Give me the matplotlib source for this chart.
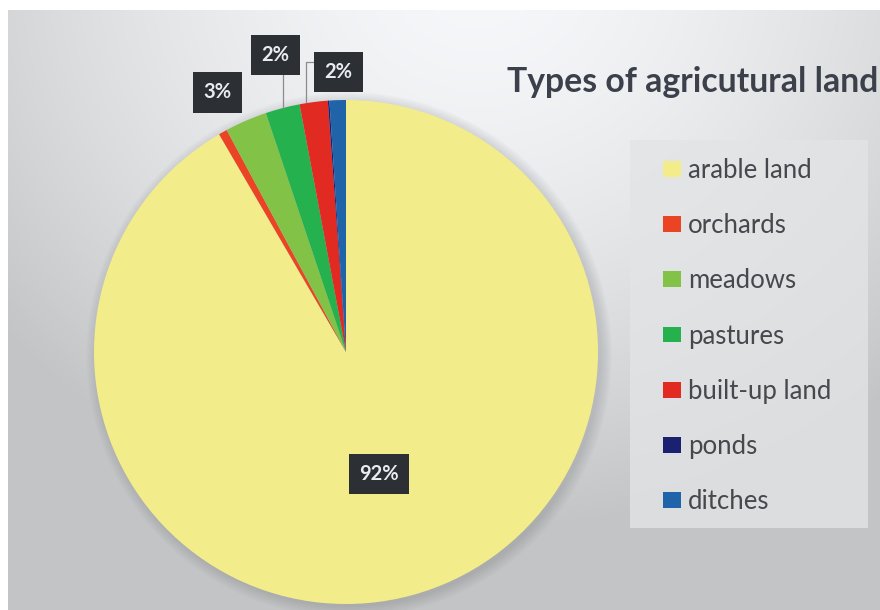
import numpy as np
import matplotlib
matplotlib.use("Agg")
import matplotlib.pyplot as plt
from matplotlib.patches import FancyBboxPatch, Circle

# land use shares, percent
categories = ["arable land", "orchards", "meadows", "pastures",
              "built-up land", "ponds", "ditches"]
shares = [91.6, 0.55, 2.7, 2.2, 1.8, 0.1, 1.05]
colors = ["#f2ec8a", "#ea4424", "#82c347", "#26b14f", "#e02a22",
          "#1b2170", "#1f63a8"]
title = "Types of agricutural land"

# which slices get a data label, and where the label sits (pie units)
label_pos = {0: None, 2: (-0.51, 1.03), 3: (-0.28, 1.18), 4: (-0.03, 1.11)}

W, H = 880, 610
fig = plt.figure(figsize=(W / 100, H / 100), dpi=100)
fig.patch.set_facecolor("white")

# soft grey backdrop, brighter toward the top middle
bg = fig.add_axes([8 / W, 0, (W - 8) / W, (H - 10) / H])
yy, xx = np.mgrid[0:600, 0:872]
d = np.hypot((xx - 470) / 620.0, (yy + 40) / 560.0)
shade = np.clip(0.97 - 0.20 * d ** 1.6, 0.77, 0.97)
img = np.dstack([shade * 0.995, shade, shade * 1.01])
bg.imshow(np.clip(img, 0, 1), aspect="auto", interpolation="bilinear")
bg.set_axis_off()

# legend panel
fig.patches.append(FancyBboxPatch((630 / W, 1 - 528 / H), 238 / W, 388 / H,
                                  boxstyle="square,pad=0", transform=fig.transFigure,
                                  fc="#e3e4e6", ec="none", alpha=0.8, zorder=1))

# pie axes: centre (346, 352) px, radius 252 px
r = 252
ax = fig.add_axes([(346 - r) / W, (H - 352 - r) / H, 2 * r / W, 2 * r / H])
ax.set_facecolor("none")

# faint drop shadow under the pie
for k in range(8):
    ax.add_patch(Circle((0.012, -0.012), 1.0 + 0.006 * k, fc="#6a6c70",
                        ec="none", alpha=0.03, zorder=0, clip_on=False))

wedges, _ = ax.pie(shares, colors=colors, startangle=90, counterclock=False,
                   radius=1.0, wedgeprops=dict(linewidth=0, zorder=2))
ax.set_xlim(-1, 1)
ax.set_ylim(-1, 1)
ax.set_aspect("equal")
ax.set_axis_off()

box = dict(boxstyle="square,pad=0.5", fc="#2c3034", ec="none")
for i, pos in label_pos.items():
    w = wedges[i]
    mid = np.deg2rad((w.theta1 + w.theta2) / 2)
    txt = f"{shares[i]:.0f}%"
    if pos is None:
        ax.text(0.5 * np.cos(mid), 0.5 * np.sin(mid), txt, ha="center", va="center",
                color="#e9edf0", fontsize=14.5, fontweight="bold", family="Lato",
                bbox=box, zorder=5)
        continue
    lx, ly = pos
    ax.text(lx, ly, txt, ha="center", va="center", color="#e9edf0", fontsize=14.5,
            fontweight="bold", family="Lato", bbox=box, zorder=5, clip_on=False)
    # leader line from the arc to the label
    ex, ey = np.cos(mid), np.sin(mid)
    if i == 3:
        ax.plot([ex, ex], [ey, ly - 0.07], color="#8a8c8e", lw=0.9, clip_on=False,
                zorder=3)
    elif i == 4:
        ax.plot([ex - 0.03, ex - 0.03, lx - 0.1], [ey, ly + 0.04, ly + 0.04],
                color="#8a8c8e", lw=0.9, clip_on=False, zorder=3)

fig.text(507 / W, 1 - 82 / H, title, ha="left", va="center", fontsize=24.3,
         fontweight="bold", color="#3b404a", family="Lato")

fig.legend(wedges, categories, loc="upper left",
           bbox_to_anchor=(663 / W, 1 - 158 / H), frameon=False,
           prop=dict(family="Lato", size=18.5), labelcolor="#45484c",
           handlelength=0.70, handleheight=0.58, handletextpad=0.26,
           labelspacing=1.175, borderpad=0, borderaxespad=0)

fig.savefig("out.png", dpi=100)
